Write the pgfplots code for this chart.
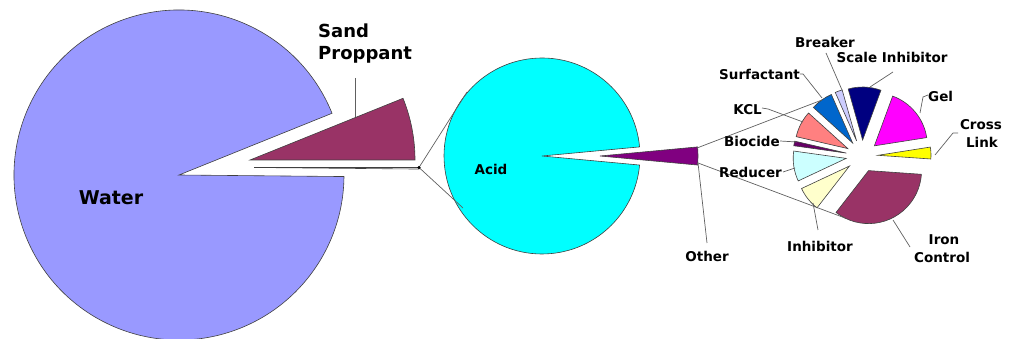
\documentclass[border=0pt]{standalone}
\usepackage{fontspec}
\setmainfont{DejaVu Sans}
\usepackage{pgfplots}
\usepackage{pgfplotstable}
\pgfplotsset{compat=1.18}

\definecolor{water}{HTML}{9999FF}
\definecolor{sand}{HTML}{993366}
\definecolor{acid}{HTML}{00FFFF}
\definecolor{other}{HTML}{800080}
\definecolor{crosslink}{HTML}{FFFF00}
\definecolor{gel}{HTML}{FF00FF}
\definecolor{scale}{HTML}{000080}
\definecolor{breaker}{HTML}{CCCCFF}
\definecolor{surfactant}{HTML}{0066CC}
\definecolor{kcl}{HTML}{FF8080}
\definecolor{biocide}{HTML}{660066}
\definecolor{reducer}{HTML}{CCFFFF}
\definecolor{inhibitor}{HTML}{FFFFCC}
\definecolor{iron}{HTML}{993366}
\definecolor{leader}{HTML}{606060}

% fluid make-up, percent of each pie
\pgfplotstableread[col sep=comma]{
label,value,color,dx,dy
Other,0.15,white,75,7.5
Sand Proppant,6.10,sand,71,15
Water,93.75,water,0,0
}\fluid

\pgfplotstableread[col sep=comma]{
label,value,color,dx,dy
Other,2.95,other,58,0
Acid,97.05,acid,0,0
}\additives

\pgfplotstableread[col sep=comma]{
label,value,color,dx,dy
Cross Link,3.6,crosslink,0,0
Gel,16.9,gel,0,0
Scale Inhibitor,10.0,scale,0,0
Breaker,2.2,breaker,0,0
Surfactant,6.7,surfactant,0,0
KCL,8.1,kcl,0,0
Biocide,1.4,biocide,0,0
Reducer,9.2,reducer,0,0
Inhibitor,7.5,inhibitor,0,0
Iron Control,34.4,iron,0,0
}\others

% #1 table, #2 cx, #3 cy, #4 radius, #5 start angle, #6 explode
\newcommand\drawpie[6]{%
  \pgfplotstablegetrowsof{#1}%
  \pgfmathtruncatemacro\lastrow{\pgfplotsretval-1}%
  \pgfmathsetmacro\cur{#5}%
  \pgfplotsforeachungrouped \i in {0,...,\lastrow}{%
    \pgfplotstablegetelem{\i}{value}\of{#1}\let\val\pgfplotsretval
    \pgfplotstablegetelem{\i}{color}\of{#1}\let\col\pgfplotsretval
    \pgfplotstablegetelem{\i}{dx}\of{#1}\let\ddx\pgfplotsretval
    \pgfplotstablegetelem{\i}{dy}\of{#1}\let\ddy\pgfplotsretval
    \pgfmathsetmacro\aone{\cur}%
    \pgfmathsetmacro\atwo{\cur+3.6*\val}%
    \pgfmathsetmacro\amid{(\aone+\atwo)/2}%
    \pgfmathsetmacro\ax{#2+\ddx+#6*cos(\amid)}%
    \pgfmathsetmacro\ay{#3+\ddy+#6*sin(\amid)}%
    \edef\tmp{\noexpand\filldraw[fill=\col, draw=black!75, line width=0.6pt]
      (axis cs:\ax,\ay) -- ++(\aone:#4pt)
      arc[start angle=\aone, end angle=\atwo, radius=#4pt] -- cycle;}%
    \tmp
    \let\cur\atwo
  }%
}

\tikzset{lbl/.style={inner sep=0pt, font=\bfseries\fontsize{13.5}{16}\selectfont}}

\begin{document}
\begin{tikzpicture}
\begin{axis}[
  x=1pt, y=1pt,
  xmin=0, xmax=1016, ymin=0, ymax=339,
  scale only axis, hide axis, clip=false,
]
\addplot[draw=none] coordinates {(0,0) (1016,339)};

\drawpie{\fluid}{179}{164}{165}{-0.54}{0}
\drawpie{\additives}{542}{183}{98}{-5.3}{0}
\drawpie{\others}{862}{183}{53}{-4}{16}

% connectors between the pies
\addplot[leader, line width=0.7pt] coordinates {(467,247) (419,171.5) (463,131)};
\addplot[only marks, mark=*, mark size=1.3pt, black] coordinates {(419,171.5)};
\addplot[leader, line width=0.7pt] coordinates {(822,239) (697,191)};
\addplot[leader, line width=0.7pt] coordinates {(698,176) (845,121)};

% leader lines
\addplot[leader, line width=0.7pt] coordinates {(355,261) (355,222)};
\addplot[leader, line width=0.7pt] coordinates {(698,176) (707,96)};
\addplot[leader, line width=0.7pt] coordinates {(826,286) (842,249)};
\addplot[leader, line width=0.7pt] coordinates {(893,267) (870,252)};
\addplot[leader, line width=0.7pt] coordinates {(800,265) (803,265) (822,241)};
\addplot[leader, line width=0.7pt] coordinates {(762,231) (768,230) (803,217)};
\addplot[leader, line width=0.7pt] coordinates {(780,198) (797,197)};
\addplot[leader, line width=0.7pt] coordinates {(783,167) (795,171)};
\addplot[leader, line width=0.7pt] coordinates {(818,109) (813,136)};
\addplot[leader, line width=0.7pt] coordinates {(910,92) (893,119)};
\addplot[leader, line width=0.7pt] coordinates {(928,244) (923,242) (920,226)};
\addplot[leader, line width=0.7pt] coordinates {(958,206) (953,206) (935,184)};

% labels
\node[inner sep=0pt, font=\bfseries\fontsize{19}{22}\selectfont, anchor=base] at (axis cs:111,134) {Water};
\node[inner sep=0pt, font=\bfseries\fontsize{18}{22}\selectfont, anchor=base west] at (axis cs:318,301) {Sand};
\node[inner sep=0pt, font=\bfseries\fontsize{18}{22}\selectfont, anchor=base west] at (axis cs:318,279) {Proppant};
\node[lbl, anchor=base] at (axis cs:491,164) {Acid};
\node[lbl, anchor=base] at (axis cs:707,77) {Other};
\node[lbl, anchor=base] at (axis cs:825,291) {Breaker};
\node[lbl, anchor=base] at (axis cs:892,276) {Scale Inhibitor};
\node[lbl, anchor=base east] at (axis cs:800,259) {Surfactant};
\node[lbl, anchor=base east] at (axis cs:762,224) {KCL};
\node[lbl, anchor=base east] at (axis cs:780,192) {Biocide};
\node[lbl, anchor=base east] at (axis cs:782,161) {Reducer};
\node[lbl, anchor=base] at (axis cs:820,87) {Inhibitor};
\node[lbl, anchor=base] at (axis cs:944,94) {Iron};
\node[lbl, anchor=base] at (axis cs:942,76) {Control};
\node[lbl, anchor=base west] at (axis cs:928,237) {Gel};
\node[lbl, anchor=base] at (axis cs:981,209) {Cross};
\node[lbl, anchor=base] at (axis cs:982,191) {Link};
\end{axis}
% arcs put their Bezier control points outside the circles: keep the page to the axis box
\pgfresetboundingbox
\path[use as bounding box] (0,0) rectangle (1016pt,339pt);
\end{tikzpicture}
\end{document}
